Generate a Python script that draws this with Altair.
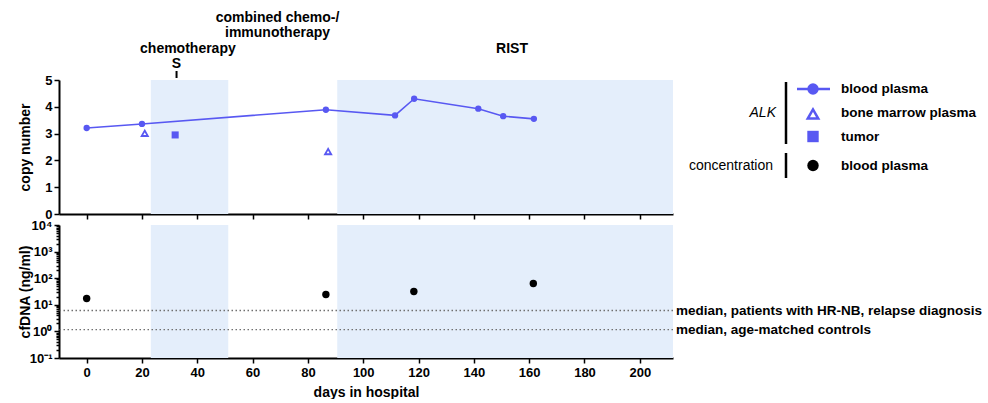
import altair as alt
import pandas as pd

# ALK copy number, blood plasma (connected series)
plasma_days = [0, 20, 86.5, 111.5, 118.4, 141.6, 150.6, 161.7]
plasma_cn = [3.21, 3.36, 3.89, 3.68, 4.30, 3.93, 3.65, 3.55]
# ALK copy number, bone marrow plasma
marrow_days = [21, 87.3]
marrow_cn = [3.01, 2.33]
# ALK copy number, tumor
tumor_days = [32]
tumor_cn = [2.95]
# cfDNA concentration in blood plasma (ng/ml)
cfdna_days = [0, 86.5, 118.3, 161.5]
cfdna_conc = [17.3, 24.5, 31.6, 63.0]
# reference medians
median_labels = ["median, patients with HR-NB, relapse diagnosis",
                 "median, age-matched controls"]
median_values = [6.1, 1.16]
# shaded treatment periods
band_start = [23.2, 90.6]
band_end = [51.2, 212]
# period captions
phase_labels = ["chemotherapy", "RIST"]
phase_days = [36.6, 153.8]
combined_label = "combined chemo-/\nimmunotherapy"
combined_day = 69
# surgery
event_labels = ["S"]
event_days = [32.5]
# legend entries
legend_labels = ["blood plasma", "bone marrow plasma", "tumor", "blood plasma"]

BLUE = "#5858f2"
BAND = "#e4eefb"
FONT = "Liberation Sans"
W, H_TOP, H_BOT = 614, 134, 133

plasma = pd.DataFrame({"day": plasma_days, "value": plasma_cn})
marrow = pd.DataFrame({"day": marrow_days, "value": marrow_cn})
tumor = pd.DataFrame({"day": tumor_days, "value": tumor_cn})
cfdna = pd.DataFrame({"day": cfdna_days, "value": cfdna_conc})
medians = pd.DataFrame({"label": median_labels, "value": median_values})
bands = pd.DataFrame({"start": band_start, "end": band_end})
phases = pd.DataFrame({"label": phase_labels, "day": phase_days})
combined = pd.DataFrame({"label": [combined_label], "day": [combined_day]})
events = pd.DataFrame({"label": event_labels, "day": event_days})
one = pd.DataFrame({"k": [0]})

xs = alt.Scale(domain=[-10, 212], nice=False, zero=False)
x_ticks = list(range(0, 201, 20))

top_x_axis = alt.Axis(values=x_ticks, labels=False, title=None, tickSize=5)
bot_x_axis = alt.Axis(values=x_ticks, title="days in hospital", tickSize=5,
                      labelPadding=3, titlePadding=6)

cn_scale = alt.Scale(domain=[0, 5], nice=False)
cn_axis = alt.Axis(values=[0, 1, 2, 3, 4, 5], title="copy number", tickSize=5,
                   labelPadding=2, titleX=-34, titleBaseline="middle")

decades = [0.1, 1, 10, 100, 1000, 10000]
log_ticks = sorted(set(decades + [m * d for d in decades[:-1] for m in range(2, 10)]))
log_scale = alt.Scale(type="log", domain=[0.1, 10000], nice=False)
log_axis = alt.Axis(
    values=log_ticks,
    title="cfDNA (ng/ml)",
    labelOverlap=False,
    labelExpr=("datum.value == 0.1 ? '10⁻¹' : datum.value == 1 ? '10⁰' : "
               "datum.value == 10 ? '10¹' : datum.value == 100 ? '10²' : "
               "datum.value == 1000 ? '10³' : datum.value == 10000 ? '10⁴' : ''"),
    tickSize={"condition": {"test": "indexof([0.1,1,10,100,1000,10000], datum.value) >= 0",
                            "value": 5}, "value": 3},
    labelPadding=2,
    titleX=-34,
    titleBaseline="middle",
)

# ---------- upper panel: ALK copy number ----------
top_bands = alt.Chart(bands).mark_rect(color=BAND).encode(
    x=alt.X("start:Q", scale=xs, axis=top_x_axis), x2="end:Q")

plasma_line = alt.Chart(plasma).mark_line(
    color=BLUE, strokeWidth=1.6,
    point=alt.OverlayMarkDef(filled=True, color=BLUE, size=40, opacity=1)).encode(
    x=alt.X("day:Q", scale=xs, axis=top_x_axis),
    y=alt.Y("value:Q", scale=cn_scale, axis=cn_axis))

marrow_pts = alt.Chart(marrow).mark_point(
    shape="triangle-up", filled=False, color=BLUE, size=38, strokeWidth=1.8,
    opacity=1).encode(
    x=alt.X("day:Q", scale=xs, axis=top_x_axis),
    y=alt.Y("value:Q", scale=cn_scale, axis=cn_axis))

tumor_pts = alt.Chart(tumor).mark_point(
    shape="square", filled=True, color=BLUE, size=50, opacity=1).encode(
    x=alt.X("day:Q", scale=xs, axis=top_x_axis),
    y=alt.Y("value:Q", scale=cn_scale, axis=cn_axis))

label_style = dict(font=FONT, fontSize=14, fontWeight="bold", color="black")

phase_text = alt.Chart(phases).mark_text(baseline="middle", **label_style).encode(
    x=alt.X("day:Q", scale=xs, axis=top_x_axis), y=alt.value(-31), text="label:N")

combined_text = alt.Chart(combined).mark_text(
    baseline="middle", lineBreak="\n", lineHeight=15, **label_style).encode(
    x=alt.X("day:Q", scale=xs, axis=top_x_axis), y=alt.value(-62), text="label:N")

event_text = alt.Chart(events).mark_text(baseline="middle", **label_style).encode(
    x=alt.X("day:Q", scale=xs, axis=top_x_axis), y=alt.value(-16), text="label:N")

event_tick = alt.Chart(events).mark_rule(color="black", strokeWidth=2).encode(
    x=alt.X("day:Q", scale=xs, axis=top_x_axis), y=alt.value(-9), y2=alt.value(-2))

# legend drawn beside the upper panel
LX_SYM, LX_TXT, LX_BAR, LX_GRP = 754, 782, 727, 716
row_y = [9, 33, 56.5, 85.5]

legend_layers = [
    alt.Chart(one).mark_rule(color=BLUE, strokeWidth=2.5).encode(
        x=alt.value(LX_SYM - 16), x2=alt.value(LX_SYM + 17), y=alt.value(row_y[0])),
    alt.Chart(one).mark_point(shape="circle", filled=True, color=BLUE, size=130, opacity=1).encode(
        x=alt.value(LX_SYM), y=alt.value(row_y[0])),
    alt.Chart(one).mark_point(shape="triangle-up", filled=False, color=BLUE, size=110,
                              strokeWidth=2.5, opacity=1).encode(
        x=alt.value(LX_SYM), y=alt.value(row_y[1] + 1)),
    alt.Chart(one).mark_point(shape="square", filled=True, color=BLUE, size=130, opacity=1).encode(
        x=alt.value(LX_SYM), y=alt.value(row_y[2])),
    alt.Chart(one).mark_point(shape="circle", filled=True, color="black", size=130, opacity=1).encode(
        x=alt.value(LX_SYM), y=alt.value(row_y[3])),
    alt.Chart(one).mark_rule(color="black", strokeWidth=2.5).encode(
        x=alt.value(LX_BAR), y=alt.value(2), y2=alt.value(64)),
    alt.Chart(one).mark_rule(color="black", strokeWidth=2.5).encode(
        x=alt.value(LX_BAR), y=alt.value(73), y2=alt.value(98)),
    alt.Chart(one).mark_text(align="right", baseline="middle", font=FONT, fontSize=14,
                             fontStyle="italic", color="black").encode(
        x=alt.value(LX_GRP + 1), y=alt.value(row_y[1]), text=alt.value("ALK")),
    alt.Chart(one).mark_text(align="right", baseline="middle", font=FONT, fontSize=14,
                             color="black").encode(
        x=alt.value(LX_GRP - 2), y=alt.value(row_y[3]), text=alt.value("concentration")),
]
for lbl, ry in zip(legend_labels, row_y):
    legend_layers.append(
        alt.Chart(one).mark_text(align="left", baseline="middle", font=FONT, fontSize=13.5,
                                 fontWeight="bold", color="black").encode(
            x=alt.value(LX_TXT), y=alt.value(ry), text=alt.value(lbl)))

top = alt.layer(
    top_bands, plasma_line, marrow_pts, tumor_pts,
    phase_text, combined_text, event_text, event_tick,
    *legend_layers,
).properties(width=W, height=H_TOP)

# ---------- lower panel: cfDNA concentration ----------
bot_bands = alt.Chart(bands).mark_rect(color=BAND).encode(
    x=alt.X("start:Q", scale=xs, axis=bot_x_axis), x2="end:Q")

median_rules = alt.Chart(medians).mark_rule(
    color="#707070", strokeWidth=1.3, strokeDash=[1.5, 2.5]).encode(
    y=alt.Y("value:Q", scale=log_scale, axis=log_axis))

median_text = alt.Chart(medians).mark_text(
    align="left", baseline="middle", font=FONT, fontSize=13.5, fontWeight="bold",
    color="black").encode(
    x=alt.value(W + 3), y=alt.Y("value:Q", scale=log_scale, axis=log_axis), text="label:N")

cfdna_pts = alt.Chart(cfdna).mark_point(
    shape="circle", filled=True, color="black", size=55, opacity=1).encode(
    x=alt.X("day:Q", scale=xs, axis=bot_x_axis),
    y=alt.Y("value:Q", scale=log_scale, axis=log_axis))

bottom = alt.layer(bot_bands, median_rules, cfdna_pts, median_text).properties(
    width=W, height=H_BOT)

chart = alt.vconcat(top, bottom, spacing=11, bounds="flush").properties(
    padding={"left": 17, "top": 11, "right": 0, "bottom": 0}
).configure_view(stroke=None).configure_axis(
    domainColor="black", domainWidth=2, tickColor="black", tickWidth=1.5,
    grid=False, zindex=1, labelFont=FONT, labelFontSize=13, labelFontWeight="bold",
    labelColor="black", titleFont=FONT, titleFontSize=14, titleFontWeight="bold",
    titleColor="black",
)

chart.save("out.html", embed_options={"renderer": "svg", "actions": False})
